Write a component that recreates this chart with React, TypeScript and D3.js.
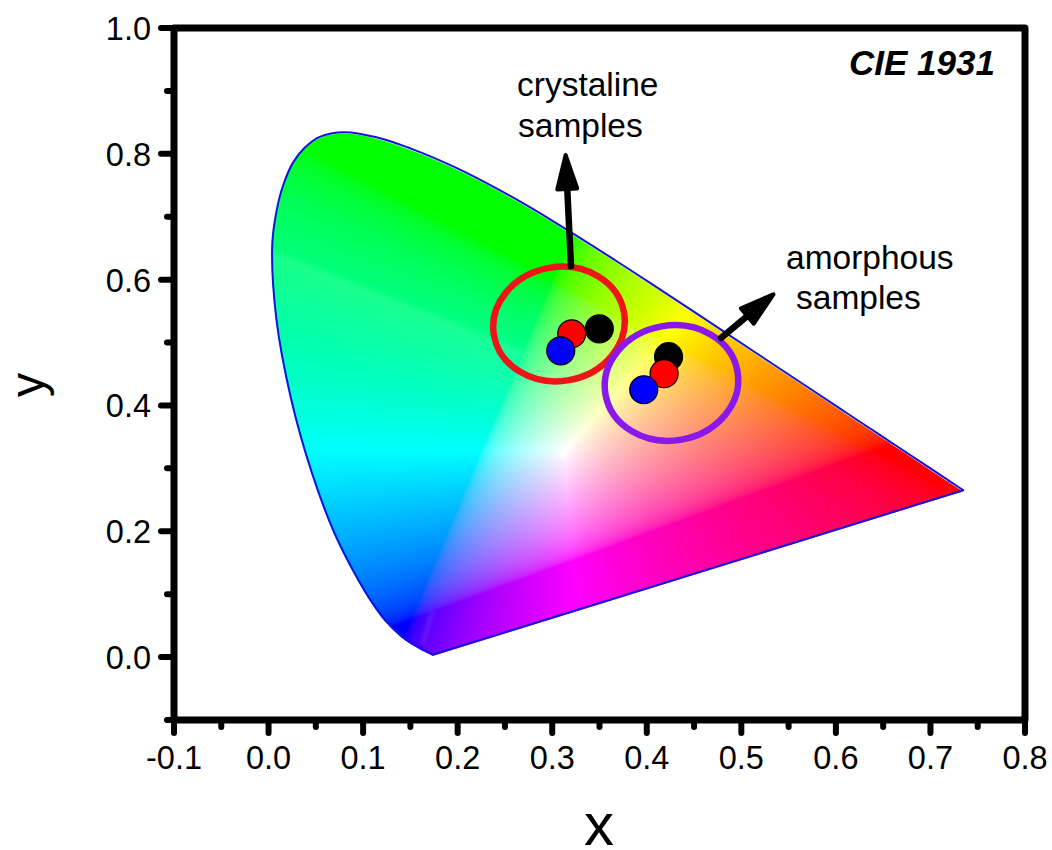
import React, { useEffect, useRef } from "react";
import * as d3 from "d3";

const locusX = [0.1741, 0.1644, 0.1566, 0.144, 0.1241, 0.1096, 0.0913, 0.0687, 0.0454, 0.0235, 0.0082, 0.0039, 0.0081, 0.0151, 0.0257, 0.0381, 0.054, 0.0804, 0.1142, 0.1547, 0.1929, 0.2296, 0.2658, 0.3016, 0.3373, 0.3731, 0.4087, 0.4441, 0.4788, 0.5125, 0.5448, 0.5752, 0.6029, 0.627, 0.6658, 0.6915, 0.7079, 0.719, 0.726, 0.73, 0.7347];
const locusY = [0.004, 0.0109, 0.0177, 0.0297, 0.0578, 0.0868, 0.1327, 0.2007, 0.295, 0.4127, 0.5384, 0.6548, 0.7065, 0.7484, 0.7856, 0.8095, 0.827, 0.8344, 0.8262, 0.8059, 0.7816, 0.7543, 0.7243, 0.6923, 0.6589, 0.6245, 0.5896, 0.5547, 0.5202, 0.4866, 0.4544, 0.4242, 0.3965, 0.3725, 0.334, 0.3083, 0.292, 0.2809, 0.274, 0.27, 0.2653];

// sample points
const sampleColors = ["#000000", "#ff0000", "#0000ff"];
const crystalX = [0.3498, 0.3206, 0.309];
const crystalY = [0.5218, 0.5139, 0.4868];
const amorphX = [0.423, 0.4183, 0.3968];
const amorphY = [0.4775, 0.4505, 0.425];

const xMajor = [-0.1, 0, 0.1, 0.2, 0.3, 0.4, 0.5, 0.6, 0.7, 0.8];
const xMinor = [-0.05, 0.05, 0.15, 0.25, 0.35, 0.45, 0.55, 0.65, 0.75];
const yMajor = [0, 0.2, 0.4, 0.6, 0.8, 1];
const yMinor = [-0.1, 0.1, 0.3, 0.5, 0.7, 0.9];

const x = d3.scaleLinear().domain([-0.1, 0.8]).range([174, 1025]);
const y = d3.scaleLinear().domain([-0.1, 1]).range([720, 28]);

const FONT = "'Liberation Sans', Arial, sans-serif";

// xy -> sRGB, negatives clipped, scaled to the largest channel
function chroma(cx: number, cy: number): [number, number, number] {
  const X = cx / cy;
  const Z = (1 - cx - cy) / cy;
  const raw = [
    3.2406 * X - 1.5372 - 0.4986 * Z,
    -0.9689 * X + 1.8758 + 0.0415 * Z,
    0.0557 * X - 0.204 + 1.057 * Z,
  ];
  const lin = raw.map((v) => Math.max(v, 0));
  const m = Math.max(...lin);
  let out = lin.map((v) => {
    const c = v / m;
    return 255 * (c <= 0.0031308 ? 12.92 * c : 1.055 * Math.pow(c, 1 / 2.4) - 0.055);
  });
  // pale streak in the green part of the original's fill
  const d = 0.6495 - 0.6 * cx - cy;
  if (raw[0] < 0 && d > -0.006 && d < 0.13) {
    const a = 0.1 * Math.min((d + 0.006) / 0.012, 1) * (1 - Math.max(d, 0) / 0.13);
    out = out.map((v) => v + (255 - v) * a);
  }
  return [out[0], out[1], out[2]];
}

// straight arrow with a solid, slightly rounded head
function Arrow({ from, to }: { from: [number, number]; to: [number, number] }) {
  const dx = to[0] - from[0];
  const dy = to[1] - from[1];
  const len = Math.hypot(dx, dy);
  const ux = dx / len, uy = dy / len;
  const bx = to[0] - ux * 36, by = to[1] - uy * 36;
  const tip: [number, number] = [to[0] - ux * 2, to[1] - uy * 2];
  const head = [
    tip,
    [bx - uy * 10, by + ux * 10],
    [bx + uy * 10, by - ux * 10],
  ];
  return (
    <g>
      <line x1={from[0]} y1={from[1]} x2={bx} y2={by} stroke="#000" strokeWidth={6.5} strokeLinecap="round" />
      <polygon points={head.join(" ")} fill="#000" stroke="#000" strokeWidth={4} strokeLinejoin="round" />
    </g>
  );
}

export default function App() {
  const imgRef = useRef<SVGImageElement>(null);

  useEffect(() => {
    const x0 = 260, y0 = 120, w = 720, h = 550;
    const canvas = document.createElement("canvas");
    canvas.width = w;
    canvas.height = h;
    const ctx = canvas.getContext("2d")!;
    const im = ctx.createImageData(w, h);
    for (let j = 0; j < h; j++) {
      for (let i = 0; i < w; i++) {
        const [r, g, b] = chroma(x.invert(x0 + i), Math.max(y.invert(y0 + j), 0.001));
        const k = (j * w + i) * 4;
        im.data[k] = r;
        im.data[k + 1] = g;
        im.data[k + 2] = b;
        im.data[k + 3] = 255;
      }
    }
    ctx.putImageData(im, 0, 0);
    d3.select(imgRef.current)
      .attr("x", x0)
      .attr("y", y0)
      .attr("width", w)
      .attr("height", h)
      .attr("href", canvas.toDataURL());
  }, []);

  const locus = d3.line().curve(d3.curveCatmullRom)(locusX.map((v, i) => [x(v), y(locusY[i])] as [number, number]));
  const closed = locus + "Z";

  const dots = (xs: number[], ys: number[]) =>
    xs.map((v, i) => (
      <circle key={i} cx={x(v)} cy={y(ys[i])} r={14} fill={sampleColors[i]} stroke="#000" strokeWidth={1.2} />
    ));

  return (
    <svg width={1052} height={850} style={{ position: "absolute", left: 0, top: 0 }} fontFamily={FONT}>
      <defs>
        <clipPath id="horseshoe">
          {/* the fill sits a hair off the outline in the original */}
          <path d={closed} transform="translate(-0.5,1.3)" />
        </clipPath>
        <filter id="soft" x="-50%" y="-50%" width="200%" height="200%">
          <feGaussianBlur stdDeviation="1.5" />
        </filter>
      </defs>

      <g clipPath="url(#horseshoe)">
        <image ref={imgRef} />
        <ellipse cx={x(0.315)} cy={y(0.329)} rx={10} ry={3.5} transform={`rotate(-48 ${x(0.315)} ${y(0.329)})`} fill="#fff" filter="url(#soft)" />
        <line x1={x(0.1735)} y1={y(0.0735)} x2={x(0.163)} y2={y(0.0208)} stroke="#fff" strokeOpacity={0.08} strokeWidth={5} filter="url(#soft)" />
      </g>
      <path d={closed} fill="none" stroke="#1414d8" strokeWidth={2} strokeLinejoin="round" />

      {/* frame */}
      <rect x={x(-0.1)} y={y(1)} width={x(0.8) - x(-0.1)} height={y(-0.1) - y(1)} fill="none" stroke="#000" strokeWidth={7} strokeLinejoin="round" />

      {/* x ticks */}
      {xMajor.map((t) => (
        <g key={t}>
          <line x1={x(t)} x2={x(t)} y1={y(-0.1)} y2={y(-0.1) + 13} stroke="#000" strokeWidth={6} strokeLinecap="round" />
          <text x={x(t)} y={769} fontSize={32.5} textAnchor="middle" fill="#000">{t.toFixed(1)}</text>
        </g>
      ))}
      {xMinor.map((t) => (
        <line key={t} x1={x(t)} x2={x(t)} y1={y(-0.1)} y2={y(-0.1) + 7} stroke="#000" strokeWidth={6} strokeLinecap="round" />
      ))}

      {/* y ticks */}
      {yMajor.map((t) => (
        <g key={t}>
          <line x1={x(-0.1)} x2={x(-0.1) - 13} y1={y(t)} y2={y(t)} stroke="#000" strokeWidth={6} strokeLinecap="round" />
          <text x={151} y={y(t) + 12} fontSize={32.5} textAnchor="end" fill="#000">{t.toFixed(1)}</text>
        </g>
      ))}
      {yMinor.map((t) => (
        <line key={t} x1={x(-0.1)} x2={x(-0.1) - 7} y1={y(t)} y2={y(t)} stroke="#000" strokeWidth={6} strokeLinecap="round" />
      ))}

      <text x={599} y={845} fontSize={60} textAnchor="middle" fill="#000">x</text>
      <text transform="translate(44,385) rotate(-90)" fontSize={48} textAnchor="middle" fill="#000">y</text>

      {/* groups */}
      <ellipse cx={559} cy={324} rx={66} ry={57} transform="rotate(-10 559 324)" fill="none" stroke="#ee1418" strokeWidth={6.5} />
      <ellipse cx={671.5} cy={383} rx={67} ry={57.5} transform="rotate(-10 671.5 383)" fill="none" stroke="#8a18ea" strokeWidth={6.5} />

      {dots(crystalX, crystalY)}
      {dots(amorphX, amorphY)}

      <Arrow from={[571, 266]} to={[565.5, 153]} />
      <Arrow from={[721, 338]} to={[775, 293]} />

      <text x={517} y={96} fontSize={33.5} fill="#000">crystaline</text>
      <text x={518} y={137} fontSize={33.5} fill="#000">samples</text>
      <text x={786} y={269} fontSize={33.5} fill="#000">amorphous</text>
      <text x={796} y={309} fontSize={33.5} fill="#000">samples</text>
      <text x={849} y={75} fontSize={35} fontWeight="bold" fontStyle="italic" fill="#000">CIE 1931</text>
    </svg>
  );
}
